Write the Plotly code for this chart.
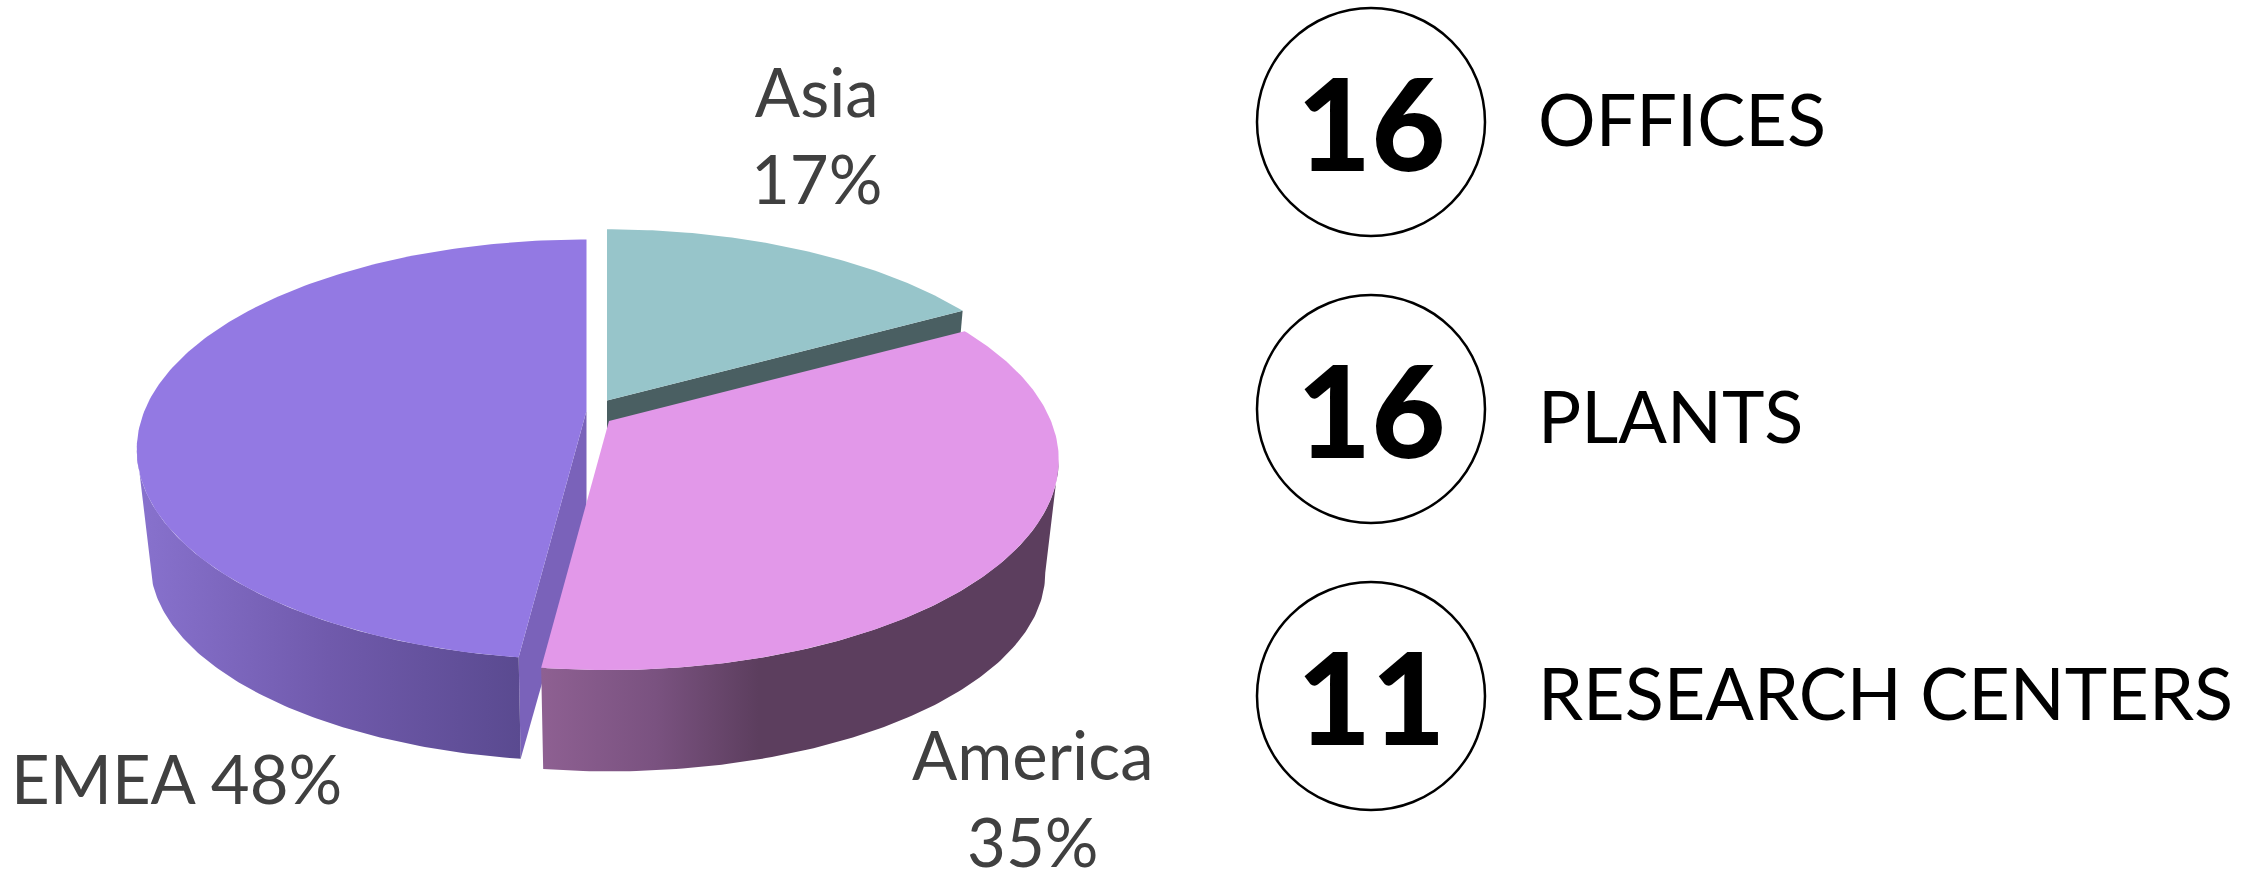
import numpy as np
import plotly.graph_objects as go

# ---- data ----
regions = ["Asia", "America", "EMEA"]
shares = [17, 35, 48]
top_colors = ["#97C5CA", "#E298E9", "#9379E3"]
label_lines = ["<br>", "<br>", " "]

counts = [16, 16, 11]
count_labels = ["OFFICES", "PLANTS", "RESEARCH CENTERS"]

# ---- drawing geometry (pixels of the 2260x871 page) ----
W, H = 2260, 871
RX, RY, PERSP = 442.0, 203.0, 0.185
DEPTH, KX, KY = 115.0, 0.97, 0.945
APEX = {"Asia": (607, 400.6), "America": (609, 421), "EMEA": (586.5, 410.7)}
LABEL_POS = {"Asia": (816, 134), "America": (1032, 797), "EMEA": (176, 778)}
CIRCLE_X, LABEL_X, ROW_Y = 1371, 1536, [122, 409, 696]
NUM_Y = [121, 408, 695]
TEXT_Y = [118, 415, 692]
WALL_GRAD = {
    "EMEA": [[0, "#8872CE"], [0.5, "#705AAC"], [1, "#5A4A90"]],
    "America": [[0, "#8E6092"], [0.22, "#7A5280"], [0.42, "#5C3E5E"], [1, "#5C3E5E"]],
}
TANGENT = np.degrees(np.arccos(-PERSP))  # where the side wall leaves the outline


def rim(theta_deg, apex, bottom=False):
    t = np.radians(theta_deg)
    X, Y = np.sin(t), np.cos(t)
    w = 1 + PERSP * Y
    dx, dy = RX * X / w, -RY * Y / w
    if bottom:
        return apex[0] + KX * dx, apex[1] + DEPTH + KY * dy
    return apex[0] + dx, apex[1] + dy


def poly(fig, x, y, **kw):
    fig.add_trace(go.Scatter(x=list(x), y=list(y), mode="lines", fill="toself",
                             line=dict(width=0), hoverinfo="skip", showlegend=False, **kw))


# slice angles, clockwise from 12 o'clock
edges = np.cumsum([0] + shares) * 3.6
spans = {r: (edges[i], edges[i + 1]) for i, r in enumerate(regions)}

fig = go.Figure()

# Asia: cut wall + top
a0, a1 = spans["Asia"]
ap = APEX["Asia"]
ex, ey = rim(a1, ap)
bx, by = rim(a1, ap, True)
poly(fig, [ap[0], ex, bx, ap[0]], [ap[1], ey, by, ap[1] + DEPTH], fillcolor="#4A5F62")
th = np.linspace(a0, a1, 80)
px, py = rim(th, ap)
poly(fig, np.r_[ap[0], px], np.r_[ap[1], py], fillcolor=top_colors[0])

# EMEA: cut wall, outer wall, top
a0, a1 = spans["EMEA"]
ap = APEX["EMEA"]
ex, ey = rim(a0, ap)
bx, by = rim(a0, ap, True)
poly(fig, [ap[0], ex, bx, ap[0]], [ap[1], ey, by, ap[1] + DEPTH], fillcolor="#7A62BA")
th = np.linspace(a0, 360 - TANGENT, 120)
tx, ty = rim(th, ap)
ux, uy = rim(th, ap, True)
fig.add_trace(go.Scatter(x=np.r_[tx, ux[::-1]].tolist(), y=np.r_[ty, uy[::-1]].tolist(),
                         mode="lines", fill="toself", line=dict(width=0), hoverinfo="skip",
                         showlegend=False, fillcolor="#705AAC",
                         fillgradient=dict(type="horizontal", colorscale=WALL_GRAD["EMEA"])))
th = np.linspace(a0, a1, 200)
px, py = rim(th, ap)
poly(fig, np.r_[ap[0], px], np.r_[ap[1], py], fillcolor=top_colors[2])

# America: outer wall, top
a0, a1 = spans["America"]
ap = APEX["America"]
th = np.linspace(TANGENT, a1, 120)
tx, ty = rim(th, ap)
ux, uy = rim(th, ap, True)
fig.add_trace(go.Scatter(x=np.r_[tx, ux[::-1]].tolist(), y=np.r_[ty, uy[::-1]].tolist(),
                         mode="lines", fill="toself", line=dict(width=0), hoverinfo="skip",
                         showlegend=False, fillcolor="#5C3E5E",
                         fillgradient=dict(type="horizontal", colorscale=WALL_GRAD["America"])))
th = np.linspace(a0, a1, 200)
px, py = rim(th, ap)
poly(fig, np.r_[ap[0], px], np.r_[ap[1], py], fillcolor=top_colors[1])

# count circles
fig.add_trace(go.Scatter(
    x=[CIRCLE_X] * 3, y=ROW_Y, mode="markers",
    marker=dict(size=228, color="#FFFFFF", line=dict(color="#000000", width=2.5)),
    hoverinfo="skip", showlegend=False))

annotations = []
for c, y in zip(counts, NUM_Y):
    annotations.append(dict(x=CIRCLE_X, y=y, xref="x", yref="y", text=str(c), showarrow=False,
                            xanchor="center", yanchor="middle",
                            font=dict(family="Lato", size=128, color="#000000", weight=900)))
for r, s, sep in zip(regions, shares, label_lines):
    lx, ly = LABEL_POS[r]
    annotations.append(dict(x=lx, y=ly, xref="x", yref="y", text=f"{r}{sep}{s}%", showarrow=False,
                            align="center", xanchor="center", yanchor="middle",
                            font=dict(family="Lato", size=67, color="#404040")))
for lab, y in zip(count_labels, TEXT_Y):
    annotations.append(dict(x=LABEL_X, y=y, xref="x", yref="y", text=lab, showarrow=False,
                            xanchor="left", yanchor="middle",
                            font=dict(family="Lato", size=72, color="#000000")))

fig.update_layout(
    width=W, height=H, margin=dict(l=0, r=0, t=0, b=0), autosize=False,
    paper_bgcolor="#FFFFFF", plot_bgcolor="#FFFFFF", showlegend=False,
    xaxis=dict(range=[0, W], visible=False, fixedrange=True),
    yaxis=dict(range=[H, 0], visible=False, fixedrange=True),
    annotations=annotations,
)
fig.write_html("out.html", config={"displayModeBar": False},
               post_script="document.body.style.margin='0';document.body.style.overflow='hidden';")
